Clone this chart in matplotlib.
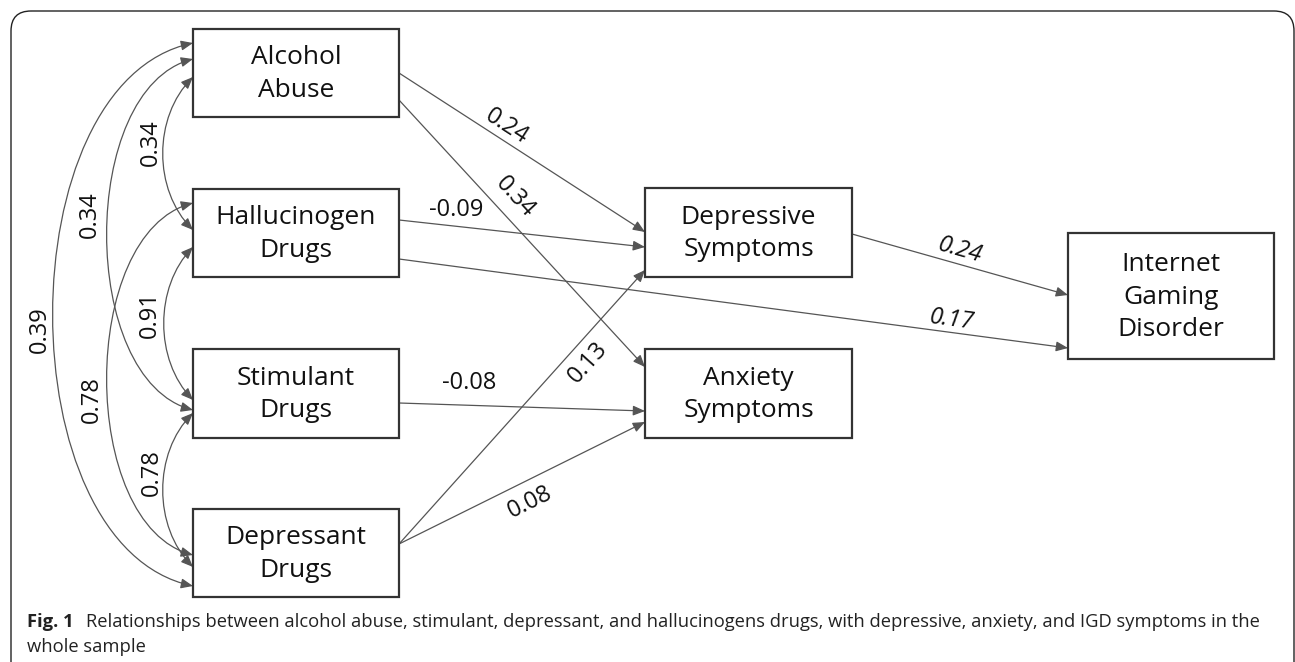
import numpy as np
import matplotlib
matplotlib.use("Agg")
import matplotlib.pyplot as plt
from matplotlib.patches import Rectangle, FancyArrowPatch, FancyBboxPatch
from matplotlib.path import Path

# ---- data ----
nodes = ["Alcohol\nAbuse", "Hallucinogen\nDrugs", "Stimulant\nDrugs", "Depressant\nDrugs",
         "Depressive\nSymptoms", "Anxiety\nSymptoms", "Internet\nGaming\nDisorder"]

# directed paths (source index, target index, coefficient)
path_src = [0, 0, 1, 1, 4, 2, 3, 3]
path_dst = [4, 5, 4, 6, 6, 5, 4, 5]
path_coef = [0.24, 0.34, -0.09, 0.17, 0.24, -0.08, 0.13, 0.08]

# covariances between the four substance-use nodes
cov_a = [0, 1, 2, 0, 1, 0]
cov_b = [1, 2, 3, 2, 3, 3]
cov_coef = [0.34, 0.91, 0.78, 0.34, 0.78, 0.39]

caption_bold = "Fig. 1"
caption_line1 = ("Relationships between alcohol abuse, stimulant, depressant, and hallucinogens drugs, "
                 "with depressive, anxiety, and IGD symptoms in the")
caption_line2 = "whole sample"

# ---- layout (pixels, y down) ----
W, H = 1295, 662
boxes = [(193, 29, 399, 117), (193, 189, 399, 277), (193, 349, 399, 438), (193, 509, 399, 597),
         (645, 188, 852, 277), (645, 349, 852, 438), (1068, 233, 1274, 359)]
# port y for each path: (y at source, y at target)
path_ports = [(73, 232), (100, 367), (220, 247), (259, 348), (234, 295), (403, 411), (544, 270), (544, 422)]
path_lab = [(507, 127, True), (515, 197, True), (456, 210, False), (952, 320, True),
            (960, 250, True), (469, 383, False), (588, 363, True), (530, 502, True)]
path_italic = [False, False, False, True, True, False, False, False]
# covariance arcs: y at a, y at b, leftmost x, end steepness, label x, label y
cov_geom = [(77, 230, 163, 40, 151, 143), (247, 400, 164, 40, 150, 315), (413, 567, 163, 40, 152, 473),
            (59, 410, 107, 30, 90, 215), (203, 555, 107, 30, 92, 400), (43, 586, 53, 40, 40, 330)]

FONT = "Open Sans"
LINE = "#555555"
ARROW = "-|>,head_length=0.6,head_width=0.25"

fig = plt.figure(figsize=(W / 100, H / 100), dpi=100)
ax = fig.add_axes([0, 0, 1, 1])
ax.set_xlim(0, W)
ax.set_ylim(H, 0)
ax.axis("off")

# outer frame
ax.add_patch(FancyBboxPatch((11, 11), 1283, 720, boxstyle="round,pad=0,rounding_size=20",
                            fill=False, edgecolor="#222222", linewidth=1.0, clip_on=True))

# boxes
for (x0, y0, x1, y1), label in zip(boxes, nodes):
    ax.add_patch(Rectangle((x0, y0), x1 - x0, y1 - y0, fill=True, facecolor="white",
                           edgecolor="#333333", linewidth=1.6, zorder=3))
    ax.text((x0 + x1) / 2, (y0 + y1) / 2 + 1, label, ha="center", va="center", fontsize=19,
            family=FONT, color="#111111", linespacing=1.42, zorder=4)

# directed paths
for s, d, c, (ys, yd), (lx, ly, rot), it in zip(path_src, path_dst, path_coef, path_ports, path_lab, path_italic):
    xs = boxes[s][2]
    xd = boxes[d][0]
    ax.add_patch(FancyArrowPatch((xs, ys), (xd, yd), arrowstyle=ARROW, mutation_scale=12,
                                 shrinkA=0, shrinkB=0, color=LINE, linewidth=0.9, zorder=2))
    ang = np.degrees(np.arctan2(-(yd - ys), xd - xs)) if rot else 0
    ax.text(lx, ly, f"{c:.2f}", ha="center", va="center", rotation=ang, rotation_mode="anchor",
            fontsize=17, family=FONT, style="italic" if it else "normal", color="#111111")

# covariance arcs
for a, b, c, (ya, yb, xmin, k, lx, ly) in zip(cov_a, cov_b, cov_coef, cov_geom):
    x0 = boxes[a][0]
    xc = x0 - (x0 - xmin) / 0.75
    verts = [(x0, ya), (xc, ya + k), (xc, yb - k), (x0, yb)]
    p = Path(verts, [Path.MOVETO, Path.CURVE4, Path.CURVE4, Path.CURVE4])
    ax.add_patch(FancyArrowPatch(path=p, arrowstyle="<|-|>,head_length=0.6,head_width=0.25",
                                 mutation_scale=12, color=LINE, linewidth=0.9, zorder=2))
    ax.text(lx, ly, f"{c:.2f}", ha="center", va="center", rotation=90, fontsize=17,
            family=FONT, color="#111111")

# caption
t = ax.text(27, 627, caption_bold, ha="left", va="baseline", fontsize=13.2, family=FONT,
            fontweight="bold", color="#222222")
fig.canvas.draw()
bb = t.get_window_extent()
ax.text(bb.x1 + 12, 627, caption_line1, ha="left", va="baseline", fontsize=13.2, family=FONT,
        color="#222222")
ax.text(27, 652, caption_line2, ha="left", va="baseline", fontsize=13.2, family=FONT,
        color="#222222")

fig.savefig("out.png", dpi=100)
